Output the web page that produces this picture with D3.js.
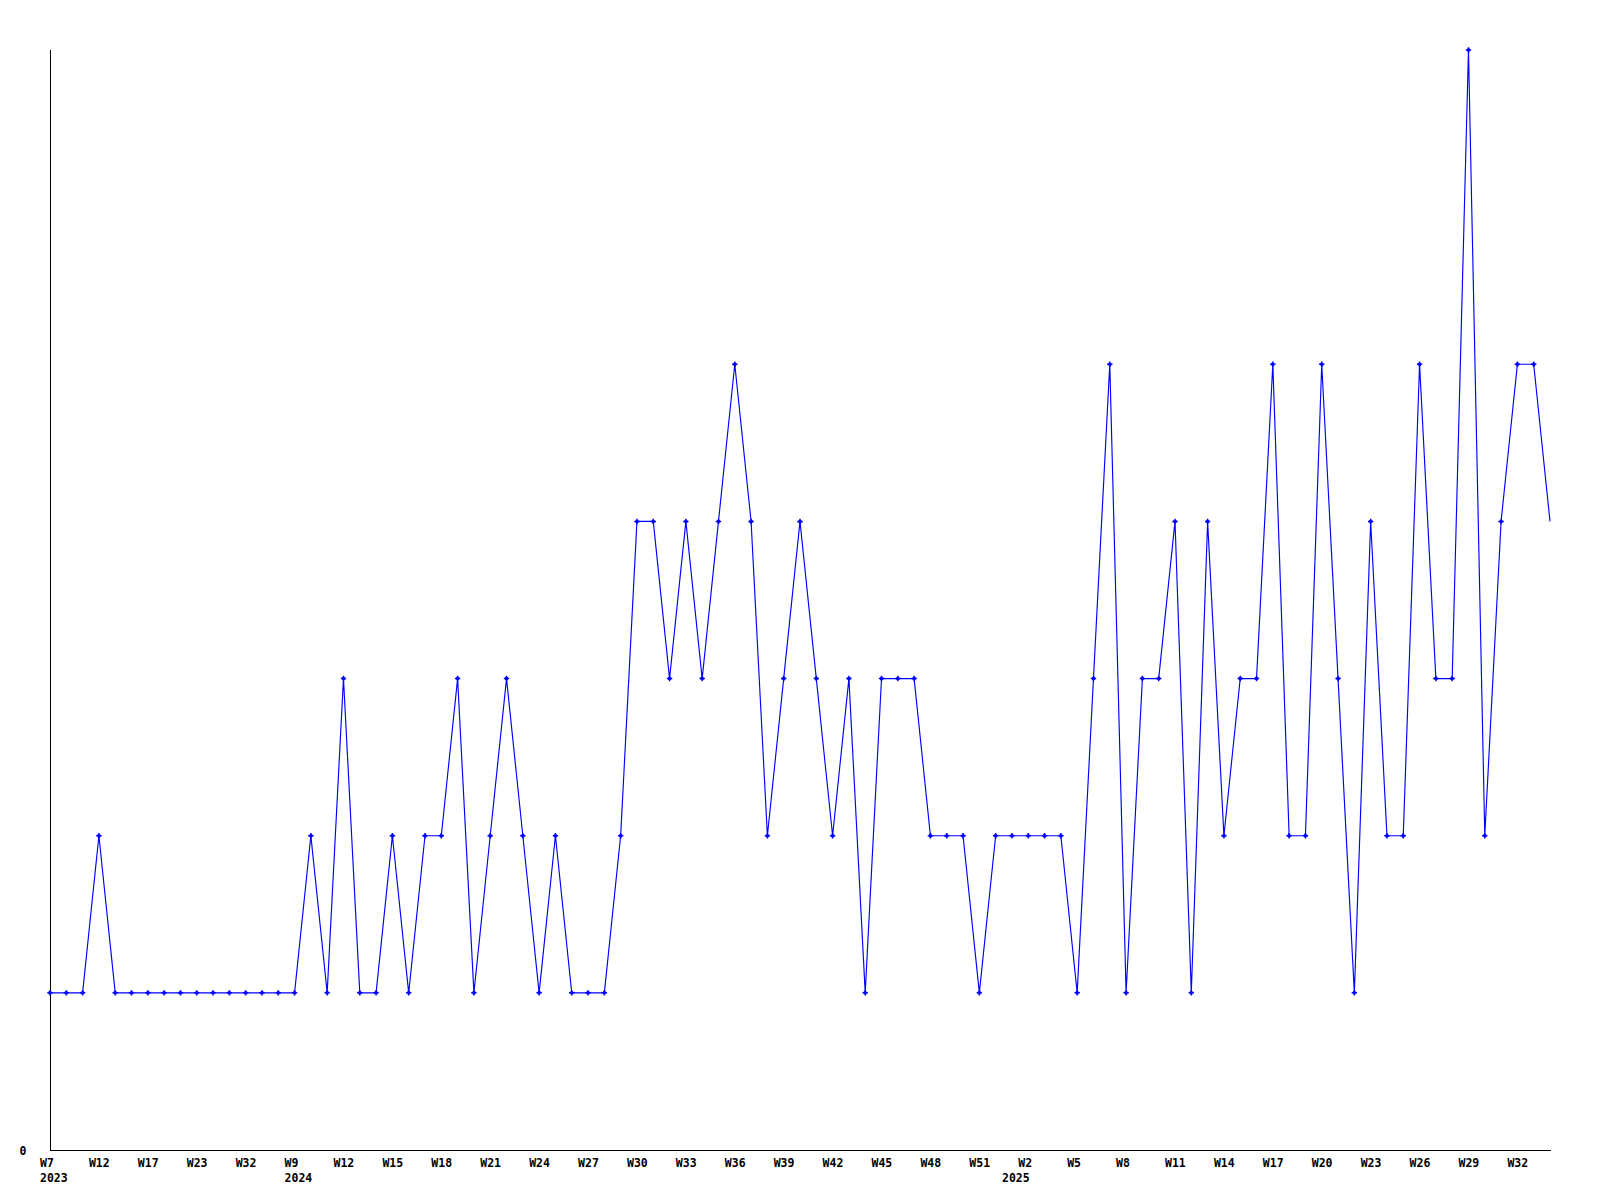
<!DOCTYPE html>
<html>
<head>
<meta charset="utf-8">
<script src="https://cdn.jsdelivr.net/npm/d3@7"></script>
<style>
html,body{margin:0;padding:0;background:#fff;}
svg{display:block;}
text{font-family:"DejaVu Sans Mono",monospace;font-weight:bold;font-size:11.5px;fill:#000;}
</style>
</head>
<body>
<svg id="chart" width="1600" height="1200"></svg>
<script>
// ---- data ----
const weeks = [
  "W7","W9","W10","W12","W14","W15","W17","W19","W21","W23","W26","W29","W32","W40","W47",
  "W9","W10","W11","W12","W13","W14","W15","W16","W17","W18","W19","W20","W21","W22","W23",
  "W24","W25","W26","W27","W28","W29","W30","W31","W32","W33","W34","W35","W36","W37","W38",
  "W39","W40","W41","W42","W43","W44","W45","W46","W47","W48","W49","W50","W51","W52",
  "W1","W2","W3","W4","W5","W6","W7","W8","W9","W10","W11","W12","W13","W14","W15","W16",
  "W17","W18","W19","W20","W21","W22","W23","W24","W25","W26","W27","W28","W29","W30","W31",
  "W32","W33","W34"
];
const years = [
  2023,2023,2023,2023,2023,2023,2023,2023,2023,2023,2023,2023,2023,2023,2023,
  2024,2024,2024,2024,2024,2024,2024,2024,2024,2024,2024,2024,2024,2024,2024,
  2024,2024,2024,2024,2024,2024,2024,2024,2024,2024,2024,2024,2024,2024,2024,
  2024,2024,2024,2024,2024,2024,2024,2024,2024,2024,2024,2024,2024,2024,
  2025,2025,2025,2025,2025,2025,2025,2025,2025,2025,2025,2025,2025,2025,2025,2025,
  2025,2025,2025,2025,2025,2025,2025,2025,2025,2025,2025,2025,2025,2025,2025,
  2025,2025,2025
];
const values = [
  1,1,1,2,1,1,1,1,1,1,1,1,1,1,1,
  1,2,1,3,1,1,2,1,2,2,3,1,2,3,2,
  1,2,1,1,1,2,4,4,3,4,3,4,5,4,2,
  3,4,3,2,3,1,3,3,3,2,2,2,1,2,
  2,2,2,2,1,3,5,1,3,3,4,1,4,2,3,3,
  5,2,2,5,3,1,4,2,2,5,3,3,7,2,4,
  5,5,4
];
const yTickValues = [0];
const labelEvery = 3;

// ---- layout ----
const svg = d3.select("#chart");
const mLeft = 50, mRight = 1550, mTop = 50, mBottom = 1150;

const idx = d3.range(values.length);
const x = d3.scalePoint().domain(idx).range([mLeft, mRight]);
const y = d3.scaleLinear().domain([0, 7]).range([mBottom, mTop]);

// week axis
const xAxis = d3.axisBottom(x)
  .tickValues(idx.filter(i => i % labelEvery === 0))
  .tickSize(0)
  .tickFormat(i => weeks[i]);
const gx = svg.append("g").attr("transform", `translate(0,${mBottom})`).call(xAxis);
gx.select(".domain").attr("d", `M${mLeft},0.5H${mRight + 1}`).attr("stroke", "#000").attr("shape-rendering", "crispEdges");
gx.selectAll(".tick text")
  .attr("text-anchor", "start")
  .attr("x", -10.5)
  .attr("y", 16.5)
  .attr("dy", null)
  .attr("fill", "#000");

// year axis: first point of each year
const yearTicks = idx.filter(i => i === 0 || years[i] !== years[i - 1]);
const yearAxis = d3.axisBottom(x).tickValues(yearTicks).tickSize(0).tickFormat(i => years[i]);
const gyr = svg.append("g").attr("transform", `translate(0,${mBottom})`).call(yearAxis);
gyr.select(".domain").remove();
gyr.selectAll(".tick text")
  .attr("text-anchor", "start")
  .attr("x", -10.5)
  .attr("y", 31.5)
  .attr("dy", null)
  .attr("fill", "#000");

const yAxis = d3.axisLeft(y).tickValues(yTickValues).tickSize(0).tickFormat(d3.format("d"));
const gy = svg.append("g").attr("transform", `translate(${mLeft},0)`).call(yAxis);
gy.select(".domain").attr("d", `M0.5,${mTop}V${mBottom}`).attr("stroke", "#000").attr("shape-rendering", "crispEdges");
gy.selectAll(".tick text").attr("x", -23.5).attr("text-anchor", "end").attr("dy", "0.35em").attr("fill", "#000");

// line
const line = d3.line().x(i => x(i)).y(i => y(values[i]));
svg.append("path")
  .datum(idx)
  .attr("d", line)
  .attr("fill", "none")
  .attr("stroke", "#0000ff")
  .attr("stroke-width", 1.15);

// markers (all but last point)
const marker = "M-2.7,-0.75H2.7V0.75H-2.7Z M-0.75,-2.7H0.75V2.7H-0.75Z M-1.5,-1.5H1.5V1.5H-1.5Z";
svg.append("g").selectAll("path")
  .data(idx.slice(0, -1))
  .join("path")
  .attr("d", marker)
  .attr("transform", i => `translate(${x(i)},${y(values[i])})`)
  .attr("fill", "#0000ff");
</script>
</body>
</html>
